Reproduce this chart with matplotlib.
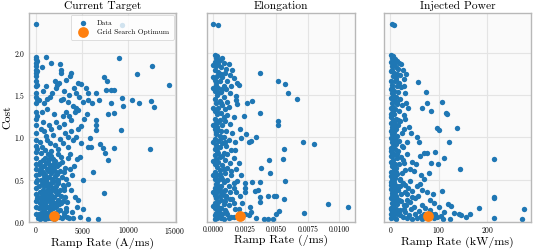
import numpy as np
import matplotlib
matplotlib.use("Agg")
import matplotlib.pyplot as plt

plt.rcParams['font.family'] = 'serif'
plt.rcParams['font.serif'] = ['cmr10']
plt.rcParams['mathtext.fontset'] = 'cm'
plt.rcParams['axes.formatter.use_mathtext'] = True

# ---- data: (ramp rate, cost) ----
current_pts = [
    (0, 2.34), (9300, 2.33), (1150, 1.95), (9000, 1.94), (12500, 1.84), (10900, 1.75), (14400, 1.62),
    (1700, 1.88), (2600, 1.86), (2750, 1.80), (2750, 1.76), (650, 1.83), (3850, 1.76), (3750, 1.72),
    (7400, 1.71), (7700, 1.67), (2050, 1.66), (2300, 1.62), (2550, 1.64), (2150, 1.58), (4550, 1.64),
    (4900, 1.63), (5450, 1.58), (5650, 1.52), (6550, 1.52), (7600, 1.56), (8100, 1.56), (8450, 1.56),
    (800, 1.55), (350, 1.44), (1250, 1.45), (1500, 1.47), (950, 1.40), (2750, 1.44), (3450, 1.42),
    (4000, 1.37), (4350, 1.34), (4200, 1.30), (4550, 1.32), (5100, 1.42), (5650, 1.44), (6050, 1.40),
    (6800, 1.44), (8150, 1.40), (7800, 1.27), (8400, 1.29), (9300, 1.46), (9400, 1.37), (10400, 1.44),
    (11100, 1.41), (12400, 1.43), (12800, 1.36), (800, 1.18), (950, 1.08), (1700, 1.10), (2150, 1.18),
    (2550, 1.12), (3100, 1.16), (3850, 1.20), (4550, 1.10), (4900, 1.13), (6550, 1.20), (6550, 1.14),
    (6550, 1.09), (9200, 1.09), (5800, 0.99), (3450, 1.00), (4350, 1.00), (500, 0.95), (1250, 0.97),
    (1500, 0.93), (2050, 0.91), (2900, 0.93), (3450, 0.89), (4000, 0.97), (4900, 0.93), (5650, 0.89),
    (6000, 0.88), (6900, 0.92), (7250, 0.87), (8400, 0.87), (7500, 0.81), (7750, 0.73), (4450, 0.74),
    (12300, 0.86), (600, 0.81), (1300, 0.80), (2750, 0.77), (3650, 0.80), (1850, 0.74), (6150, 0.59),
    (7350, 0.34), (5100, 0.49), (4750, 0.77), (4400, 0.18), (5100, 0.15), (5650, 0.04), (6750, 0.04),
    (3900, 0.12), (4200, 0.30), (3800, 0.38), (4600, 0.26), (4800, 0.06), (4000, 0.05), (3900, 0.55),
    (700, 0.88), (1050, 0.85), (1600, 0.84), (2400, 0.86), (1100, 1.02), (1900, 1.03), (2600, 0.98),
    (3200, 1.05), (600, 1.10), (1400, 1.15), (2900, 1.25), (3300, 1.30), (2000, 1.28), (1200, 1.33),
    (700, 1.30), (3600, 1.50), (3000, 1.55), (1800, 1.52), (1150, 1.60), (3300, 1.68), (2950, 1.45),
    (3550, 1.25), (4100, 1.58), (4700, 1.48), (4300, 1.52), (5200, 1.22), (5500, 1.28), (3800, 1.08),
    (300, 0.05), (550, 0.06), (800, 0.05), (1050, 0.07), (1300, 0.05), (2500, 0.06), (2800, 0.05),
    (3100, 0.07), (3400, 0.06), (3600, 0.05), (400, 0.10), (700, 0.12), (950, 0.09), (1200, 0.11),
    (1500, 0.13), (1750, 0.10), (2300, 0.12), (2600, 0.14), (3000, 0.11), (350, 0.16), (600, 0.18),
    (850, 0.15), (1100, 0.19), (1400, 0.17), (1650, 0.20), (1900, 0.16), (2200, 0.18), (2500, 0.21),
    (3300, 0.17), (450, 0.23), (750, 0.25), (1000, 0.22), (1250, 0.26), (1550, 0.24), (1800, 0.27),
    (2100, 0.23), (2400, 0.26), (2900, 0.25), (3400, 0.24), (300, 0.30), (650, 0.31), (900, 0.29),
    (1150, 0.33), (1450, 0.30), (1700, 0.32), (2000, 0.29), (2350, 0.33), (2700, 0.31), (3200, 0.30),
    (500, 0.36), (800, 0.38), (1050, 0.35), (1300, 0.39), (1600, 0.37), (1900, 0.40), (2200, 0.36),
    (2600, 0.38), (3100, 0.41), (350, 0.43), (700, 0.45), (950, 0.42), (1200, 0.46), (1500, 0.44),
    (1850, 0.47), (2150, 0.43), (2450, 0.46), (2900, 0.44), (3500, 0.45), (550, 0.50), (850, 0.52),
    (1100, 0.49), (1400, 0.53), (1750, 0.51), (2050, 0.54), (2400, 0.50), (2800, 0.53), (3300, 0.51),
    (400, 0.57), (750, 0.59), (1000, 0.56), (1300, 0.60), (1650, 0.58), (2000, 0.61), (2350, 0.57),
    (3000, 0.59), (3700, 0.62), (600, 0.64), (900, 0.66), (1200, 0.63), (1550, 0.67), (1900, 0.65),
    (2500, 0.68), (3200, 0.64), (4100, 0.66), (450, 0.71), (800, 0.73), (1150, 0.70), (1450, 0.74),
    (2100, 0.72), (2800, 0.71), (3500, 0.75),
    (0, 1.95), (0, 1.92), (0, 1.88), (0, 1.84), (0, 1.80), (0, 1.76), (0, 1.72), (0, 1.66), (0, 1.60),
    (0, 1.52), (0, 1.47), (0, 1.40), (0, 1.30), (0, 1.22), (0, 1.15), (0, 1.05), (0, 0.97), (0, 0.90),
    (0, 0.83), (0, 0.76), (0, 0.69), (0, 0.62), (0, 0.55), (0, 0.47), (0, 0.40), (0, 0.33), (0, 0.25),
    (0, 0.18), (0, 0.10), (120, 1.90), (100, 1.78), (150, 1.62), (100, 1.45), (130, 1.25), (100, 0.86),
    (150, 0.50), (120, 0.28),
    (600, 0.08), (900, 0.14), (1400, 0.08), (1100, 0.26), (700, 0.34), (1300, 0.42), (950, 0.55),
    (1600, 0.30), (1800, 0.19), (2200, 0.09), (2450, 0.36), (1650, 0.63), (2300, 0.66), (2600, 0.60),
    (3000, 0.38), (3300, 0.13), (2700, 0.22), (500, 0.67), (1000, 0.76), (1700, 0.78), (2400, 0.80),
    (450, 0.04), (1000, 0.04), (1600, 0.05), (2000, 0.04), (750, 0.20), (1250, 0.18), (1950, 0.22),
    (550, 0.27), (1500, 0.35), (2050, 0.39), (750, 0.48), (1650, 0.46), (2250, 0.50), (500, 0.60),
    (1450, 0.64), (2150, 0.59), (1300, 0.71), (1950, 0.70),
]

elong_pts = [
    (0.0000, 2.34), (0.0004, 2.33),
    (0.0001, 1.97), (0.0003, 1.96), (0.0002, 1.93), (0.0005, 1.91), (0.0001, 1.89), (0.0004, 1.87),
    (0.0008, 1.88), (0.0012, 1.86), (0.0002, 1.84), (0.0006, 1.83), (0.0010, 1.81), (0.0015, 1.80),
    (0.0001, 1.79), (0.0004, 1.77), (0.0009, 1.76), (0.0013, 1.74), (0.0003, 1.72), (0.0007, 1.71),
    (0.0016, 1.70), (0.0001, 1.68), (0.0005, 1.66), (0.0011, 1.66), (0.0019, 1.64), (0.0002, 1.62),
    (0.0008, 1.61), (0.0014, 1.60), (0.0004, 1.58), (0.0010, 1.57), (0.0001, 1.55), (0.0006, 1.53),
    (0.0013, 1.52), (0.0018, 1.49), (0.0003, 1.50), (0.0008, 1.47), (0.0001, 1.45), (0.0005, 1.43),
    (0.0011, 1.42), (0.0002, 1.40), (0.0007, 1.38), (0.0012, 1.36), (0.0004, 1.35), (0.0009, 1.33),
    (0.0001, 1.31), (0.0006, 1.29), (0.0003, 1.27), (0.0011, 1.26), (0.0016, 1.24), (0.0001, 1.22),
    (0.0005, 1.20), (0.0009, 1.19), (0.0002, 1.17), (0.0013, 1.16), (0.0007, 1.14), (0.0003, 1.12),
    (0.0001, 1.10), (0.0006, 1.08), (0.0010, 1.07), (0.0015, 1.05), (0.0002, 1.04), (0.0005, 1.02),
    (0.0008, 1.00), (0.0001, 0.98), (0.0012, 0.97), (0.0004, 0.96), (0.0017, 0.95), (0.0007, 0.93),
    (0.0002, 0.91), (0.0010, 0.90), (0.0005, 0.88), (0.0001, 0.86), (0.0014, 0.85), (0.0003, 0.84),
    (0.0008, 0.82), (0.0011, 0.80), (0.0001, 0.79), (0.0005, 0.77), (0.0016, 0.76), (0.0002, 0.74),
    (0.0009, 0.73), (0.0004, 0.71), (0.0013, 0.70), (0.0001, 0.68), (0.0007, 0.67), (0.0003, 0.65),
    (0.0011, 0.64), (0.0018, 0.62), (0.0005, 0.61), (0.0001, 0.59), (0.0009, 0.58), (0.0014, 0.56),
    (0.0003, 0.55), (0.0006, 0.53), (0.0001, 0.51), (0.0011, 0.50), (0.0004, 0.49), (0.0008, 0.47),
    (0.0016, 0.46), (0.0002, 0.45), (0.0006, 0.43), (0.0012, 0.42), (0.0001, 0.40), (0.0004, 0.39),
    (0.0009, 0.38), (0.0003, 0.36), (0.0013, 0.35), (0.0007, 0.34), (0.0001, 0.32), (0.0005, 0.31),
    (0.0010, 0.30), (0.0002, 0.28), (0.0015, 0.27), (0.0006, 0.26), (0.0004, 0.24), (0.0001, 0.23),
    (0.0008, 0.21), (0.0012, 0.20), (0.0003, 0.19), (0.0006, 0.17), (0.0001, 0.16), (0.0017, 0.15),
    (0.0009, 0.14), (0.0004, 0.13), (0.0002, 0.11), (0.0007, 0.10), (0.0011, 0.09), (0.0001, 0.08),
    (0.0005, 0.07), (0.0014, 0.06), (0.0003, 0.05), (0.0008, 0.04), (0.0001, 0.04), (0.0012, 0.05),
    (0.0016, 0.40), (0.0018, 0.35), (0.0021, 0.31), (0.0025, 0.36), (0.0013, 0.27), (0.0016, 0.22),
    (0.0010, 0.31), (0.0025, 0.10), (0.0028, 0.08), (0.0016, 0.06), (0.0023, 0.22), (0.0029, 0.18),
    (0.0030, 0.12), (0.0034, 0.05), (0.0040, 0.04), (0.0043, 0.04), (0.0047, 0.04), (0.0050, 0.10),
    (0.0052, 0.125), (0.0037, 0.30), (0.0037, 0.24), (0.0043, 0.31), (0.0048, 0.31), (0.0050, 0.31),
    (0.0056, 0.27), (0.0035, 0.38), (0.0033, 0.37), (0.0025, 0.40), (0.0025, 0.457), (0.0031, 0.476),
    (0.0037, 0.47), (0.0057, 0.48), (0.0038, 0.635), (0.0045, 0.58), (0.0044, 0.733), (0.0055, 0.745),
    (0.0056, 0.86), (0.0071, 0.94), (0.0080, 0.92), (0.0028, 0.95), (0.0034, 1.008), (0.0026, 1.04),
    (0.0018, 1.44), (0.0019, 1.39), (0.0031, 1.434), (0.0027, 1.403), (0.0037, 1.285), (0.0051, 1.197),
    (0.0051, 1.147), (0.0037, 1.757), (0.0051, 1.667), (0.0057, 1.628), (0.0059, 1.52), (0.0066, 1.45),
    (0.0091, 0.209), (0.0107, 0.173), (0.0072, 0.11), (0.0020, 0.15), (0.0019, 0.48), (0.0022, 0.55),
    (0.0014, 0.60), (0.0020, 0.70), (0.0017, 0.85), (0.0021, 1.10), (0.0024, 1.25), (0.0020, 1.62),
    (0.0022, 0.99), (0.0030, 0.96),
    (0.0003, 1.90), (0.0006, 1.75), (0.0002, 1.65), (0.0004, 1.52), (0.0006, 1.40), (0.0003, 1.30),
    (0.0004, 1.18), (0.0002, 1.06), (0.0006, 0.99), (0.0003, 0.88), (0.0007, 0.78), (0.0002, 0.69),
    (0.0005, 0.57), (0.0003, 0.47), (0.0006, 0.37), (0.0002, 0.30), (0.0009, 0.25), (0.0005, 0.16),
    (0.0003, 0.09), (0.0010, 0.12), (0.0006, 0.05),
    (0.0000, 1.85), (0.0000, 1.71), (0.0000, 1.58), (0.0000, 1.35), (0.0000, 1.14), (0.0000, 0.94),
    (0.0000, 0.72), (0.0000, 0.56), (0.0000, 0.35), (0.0000, 0.19), (0.0007, 1.93), (0.0007, 1.57),
    (0.0008, 1.24), (0.0004, 1.09), (0.0009, 0.95), (0.0004, 0.81), (0.0008, 0.63), (0.0007, 0.51),
    (0.0004, 0.43), (0.0008, 0.32), (0.0002, 0.20), (0.0005, 0.11),
]

power_pts = [
    (3, 2.34), (8, 2.33),
    (2, 1.97), (6, 1.96), (4, 1.93), (10, 1.92), (14, 1.90), (1, 1.89), (8, 1.87), (18, 1.88), (22, 1.86),
    (3, 1.84), (12, 1.83), (16, 1.81), (25, 1.80), (2, 1.78), (7, 1.76), (14, 1.75), (20, 1.73), (5, 1.72),
    (11, 1.70), (27, 1.69), (1, 1.67), (9, 1.66), (17, 1.64), (4, 1.62), (13, 1.61), (22, 1.59), (2, 1.57),
    (8, 1.55), (15, 1.54), (30, 1.52), (5, 1.50), (11, 1.48), (1, 1.46), (19, 1.45), (7, 1.43), (3, 1.41),
    (13, 1.39), (24, 1.38), (6, 1.36), (1, 1.34), (10, 1.33), (17, 1.31), (4, 1.29), (8, 1.27), (28, 1.26),
    (2, 1.24), (12, 1.22), (6, 1.20), (20, 1.19), (1, 1.17), (9, 1.15), (15, 1.14), (4, 1.12), (11, 1.10),
    (2, 1.08), (7, 1.06), (23, 1.05), (5, 1.03), (14, 1.01), (1, 0.99), (9, 0.97), (18, 0.96), (3, 0.94),
    (12, 0.92), (6, 0.90), (26, 0.89), (1, 0.87), (10, 0.86), (16, 0.84), (4, 0.82), (8, 0.80), (2, 0.78),
    (21, 0.77), (13, 0.75), (5, 0.73), (1, 0.71), (9, 0.69), (17, 0.68), (3, 0.66), (11, 0.64), (7, 0.62),
    (30, 0.61), (2, 0.59), (14, 0.57), (5, 0.56), (1, 0.54), (10, 0.52), (19, 0.51), (4, 0.49), (8, 0.47),
    (25, 0.46), (2, 0.44), (13, 0.43), (6, 0.41), (1, 0.39), (16, 0.38), (9, 0.36), (3, 0.34), (22, 0.33),
    (12, 0.31), (5, 0.29), (1, 0.28), (18, 0.26), (8, 0.25), (3, 0.23), (14, 0.21), (28, 0.20), (6, 0.19),
    (1, 0.17), (11, 0.15), (20, 0.14), (4, 0.13), (9, 0.11), (2, 0.10), (16, 0.09), (6, 0.07), (25, 0.06),
    (1, 0.05), (12, 0.04), (35, 0.05), (45, 0.04), (55, 0.05), (65, 0.04),
    (30, 0.12), (38, 0.08), (42, 0.15), (50, 0.10), (58, 0.13), (62, 0.07), (70, 0.10), (85, 0.09),
    (95, 0.06), (33, 0.20), (40, 0.24), (50, 0.28), (57, 0.31), (64, 0.20), (71, 0.16), (81, 0.26),
    (90, 0.22), (100, 0.18), (30, 0.35), (36, 0.40), (45, 0.37), (55, 0.42), (65, 0.38), (75, 0.35),
    (88, 0.33), (106, 0.37), (20, 0.50), (30, 0.44), (40, 0.48), (62, 0.55), (69, 0.51), (79, 0.58),
    (48, 0.60), (26, 0.73), (45, 0.71), (52, 0.69), (34, 0.80), (60, 0.78), (70, 0.81), (76, 0.81),
    (91, 0.83), (111, 0.76), (83, 0.70), (98, 0.68), (38, 1.12), (54, 1.00), (59, 0.94), (33, 1.40),
    (36, 1.34), (30, 1.22), (35, 0.95), (42, 1.05), (28, 1.60), (32, 1.75),
    (56, 1.65), (73, 1.53), (107, 1.42), (76, 1.40), (66, 1.35), (83, 1.31), (115, 1.29), (117, 1.28),
    (95, 1.11), (101, 1.09), (138, 1.11), (121, 0.94), (214, 0.745), (143, 0.62), (214, 0.28),
    (213, 0.29), (125, 0.19), (183, 0.17), (163, 0.10), (132, 0.11), (142, 0.10), (145, 0.08),
    (156, 0.06), (122, 0.04), (108, 0.04), (104, 0.07), (92, 0.10), (90, 0.05), (214, 0.05), (272, 0.04),
    (276, 0.15), (45, 0.30), (110, 0.12), (118, 0.21),
    (6, 1.88), (10, 1.74), (4, 1.58), (8, 1.44), (5, 1.31), (7, 1.18), (4, 1.04), (7, 0.92), (5, 0.79),
    (6, 0.66), (4, 0.53), (7, 0.40), (5, 0.27), (8, 0.16), (4, 0.08), (18, 0.12), (22, 0.25), (20, 0.42),
    (24, 0.58), (28, 0.70), (35, 0.26), (48, 0.18), (78, 0.05), (82, 0.14), (60, 0.45),
    (3, 1.80), (12, 1.68), (3, 1.52), (14, 1.42), (2, 1.28), (15, 1.20), (3, 1.09), (10, 0.99), (2, 0.84),
    (14, 0.80), (3, 0.70), (12, 0.59), (2, 0.47), (10, 0.44), (3, 0.31), (13, 0.27), (2, 0.15), (9, 0.05),
    (20, 0.08), (27, 0.15), (34, 0.33), (40, 0.62), (24, 0.90), (27, 1.10),
]

optimum_x = [2000, 0.0021, 77]
optimum_cost = [0.075, 0.07, 0.07]

titles = ['Current Target', 'Elongation', 'Injected Power']
xlabels = ['Ramp Rate (A/ms)', 'Ramp Rate (/ms)', 'Ramp Rate (kW/ms)']
xticks = [[0, 5000, 10000, 15000], [0.0, 0.0025, 0.005, 0.0075, 0.01], [0, 100, 200]]
yticks = [0.0, 0.5, 1.0, 1.5, 2.0]

blue = '#1f77b4'
orange = '#ff7f0e'

fig = plt.figure(figsize=(5.33, 2.5), dpi=100)
ax1 = fig.add_axes([0.0544, 0.112, 0.2758, 0.837])
ax2 = fig.add_axes([0.3878, 0.112, 0.2782, 0.837], sharey=ax1)
ax3 = fig.add_axes([0.721, 0.112, 0.2752, 0.837], sharey=ax1)
axes = [ax1, ax2, ax3]

for i, (ax, pts) in enumerate(zip(axes, [current_pts, elong_pts, power_pts])):
    pts = np.array(pts)
    ax.set_facecolor('#fafafa')
    ax.grid(True, color='#e4e4e4', linewidth=0.8)
    ax.set_axisbelow(True)
    ax.scatter(pts[:, 0], pts[:, 1], s=15, color=blue, linewidths=0, label='Data', zorder=2)
    ax.scatter(optimum_x[i], optimum_cost[i], s=60, color=orange, linewidths=0,
               label='Grid Search Optimum', zorder=3)
    ax.set_title(titles[i], fontsize=8.3, pad=2.5)
    ax.set_xlabel(xlabels[i], fontsize=8.6, labelpad=0.5)
    ax.set_xticks(xticks[i])
    for sp in ax.spines.values():
        sp.set_color('#b8b8b8')
        sp.set_linewidth(1.0)
    ax.tick_params(length=0, labelsize=5.5, pad=2.5)

ax1.set_yticks(yticks)
ax1.set_ylim(0, 2.47)
ax1.set_ylabel('Cost', fontsize=8.6, labelpad=1.5)
ax2.tick_params(labelleft=False)
ax3.tick_params(labelleft=False)
ax2.set_xticklabels(['0.0000', '0.0025', '0.0050', '0.0075', '0.0100'])

leg = ax1.legend(loc='upper right', fontsize=5.3, borderaxespad=0.3, framealpha=0.8,
                 edgecolor='#d0d0d0', handletextpad=1.0, borderpad=0.6)
leg.get_frame().set_linewidth(0.6)

fig.savefig('out.png', dpi=100)
